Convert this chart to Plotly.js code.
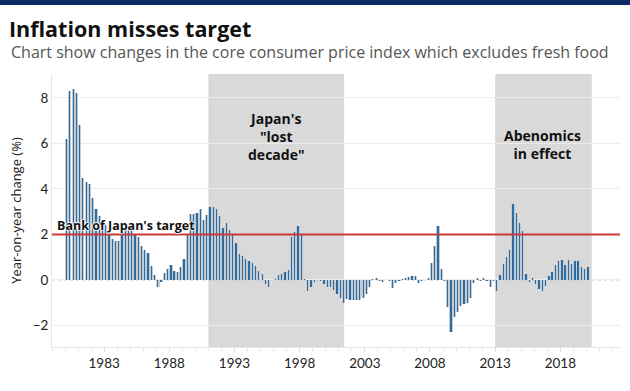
<!DOCTYPE html>
<html>
<head>
<meta charset="utf-8">
<script src="https://cdn.plot.ly/plotly-3.0.1.min.js"></script>
<style>
  html, body { margin: 0; padding: 0; background: #fff; }
  #chart { width: 630px; height: 391px; }
</style>
</head>
<body>
<div id="chart"></div>
<script>
// Quarterly core CPI (ex fresh food), year-on-year % change
const startYear = 1980;
const cpi1980s = [
  6.2, 8.3, 8.4, 8.2,
  6.8, 4.5, 4.3, 4.2,
  3.6, 3.1, 2.8, 2.6,
  2.4, 2.0, 1.8, 1.7,
  1.7, 2.1, 2.2, 2.3,
  2.2, 2.0, 1.9, 1.5,
  1.3, 1.2, 0.6, 0.2,
  -0.3, -0.1, 0.3, 0.5,
  0.65, 0.4, 0.35, 0.55,
  0.9, 2.0, 2.9, 2.9
];
const cpi1990s = [
  2.95, 3.1, 2.65, 2.85,
  3.2, 3.2, 3.1, 2.8,
  2.3, 2.5, 2.2, 2.0,
  1.6, 1.15, 1.05, 0.9,
  0.85, 0.75, 0.6, 0.4,
  0.25, -0.2, -0.3, 0.0,
  0.05, 0.2, 0.25, 0.35,
  0.45, 1.9, 2.1, 2.35,
  2.0, 0.05, -0.5, -0.3,
  -0.1, 0.0, -0.05, -0.2
];
const cpi2000s = [
  -0.3, -0.3, -0.45, -0.6,
  -0.8, -1.0, -0.85, -0.9,
  -0.9, -0.9, -0.9, -0.8,
  -0.6, -0.3, 0.05, 0.1,
  -0.07, -0.1, 0.0, -0.05,
  -0.35, -0.15, -0.07, 0.05,
  0.1, 0.12, 0.15, 0.15,
  -0.15, -0.07, 0.0, 0.1,
  0.75, 1.5, 2.35, 0.5,
  -0.05, -1.2, -2.3, -1.65
];
const cpi2010s = [
  -1.4, -1.15, -1.05, -1.0,
  -0.8, -0.15, 0.1, -0.07,
  0.1, -0.05, -0.3, -0.07,
  -0.5, 0.2, 0.7, 1.0,
  1.3, 3.35, 2.95, 2.5,
  2.15, 0.25, -0.1, 0.07,
  -0.2, -0.4, -0.5, -0.25,
  0.15, 0.35, 0.65, 0.85,
  0.88, 0.66, 0.88, 0.7,
  0.85, 0.85, 0.55, 0.5,
  0.55
];
const targetRate = 2;
const yTickVals = [-2, 0, 2, 4, 6, 8];
const xTickLabels = ['1983', '1988', '1993', '1998', '2003', '2008', '2013', '2018'];
const lostDecade = ['1991-01-01', '2001-06-01'];
const abenomics = ['2013-01-01', '2020-06-01'];

const values = [].concat(cpi1980s, cpi1990s, cpi2000s, cpi2010s);
const midMonths = ['02', '05', '08', '11'];
const dates = values.map((v, i) => {
  const y = startYear + Math.floor(i / 4);
  return y + '-' + midMonths[i % 4] + '-15';
});
const quarterMs = 91.3 * 24 * 3600 * 1000;

const FONT = 'Lato, "Open Sans", sans-serif';
const WIDE = '"Open Sans", Lato, sans-serif';

const traces = [
  {
    type: 'bar', x: dates, y: values,
    width: quarterMs,
    marker: { color: '#c6cbd1', line: { width: 0 } },
    hoverinfo: 'skip', showlegend: false
  },
  {
    type: 'bar', x: dates, y: values,
    width: quarterMs * 0.38,
    marker: { color: '#2b6ca3', line: { width: 0 } },
    showlegend: false
  }
];

const layout = {
  width: 630, height: 391,
  margin: { l: 52, r: 10, t: 74, b: 44 },
  paper_bgcolor: '#fff', plot_bgcolor: '#fff',
  barmode: 'overlay', bargap: 0,
  font: { family: FONT, color: '#222' },
  title: {
    text: '<b>Inflation misses target</b>',
    font: { family: WIDE, size: 21.5, color: '#111' },
    x: 9 / 630, xanchor: 'left', xref: 'container',
    y: 1 - 29 / 391, yanchor: 'middle', yref: 'container'
  },
  xaxis: {
    type: 'date',
    range: ['1979-01-01', '2022-08-01'],
    tickvals: xTickLabels.map(t => t + '-01-01'),
    ticktext: xTickLabels,
    ticks: 'outside', ticklen: 4, tickcolor: '#ddd',
    tickfont: { size: 13.5, color: '#222' },
    showgrid: false, zeroline: false,
    showline: true, linecolor: '#e6e6e6', linewidth: 1,
    minor: { dtick: 'M12', tick0: '1979-01-01', ticks: 'outside', ticklen: 3, tickcolor: '#e6e6e6', showgrid: false }
  },
  yaxis: {
    range: [-2.95, 9.05],
    tickvals: yTickVals,
    tickfont: { size: 13.5, color: '#222' },
    showgrid: true, gridcolor: '#ececec', gridwidth: 1,
    zeroline: false,
    showline: true, linecolor: '#e6e6e6', linewidth: 1,
    title: { text: 'Year-on-year change (%)', font: { family: WIDE, size: 13, color: '#222' }, standoff: 8 }
  },
  shapes: [
    { type: 'rect', xref: 'paper', yref: 'paper', x0: -52 / 568, x1: 578 / 568, y0: 342 / 273, y1: 347 / 273,
      fillcolor: '#0d2b66', line: { width: 0 }, layer: 'above' },
    { type: 'rect', xref: 'x', yref: 'paper', x0: lostDecade[0], x1: lostDecade[1], y0: 0, y1: 1,
      fillcolor: '#d9d9d9', line: { width: 0 }, layer: 'below' },
    { type: 'rect', xref: 'x', yref: 'paper', x0: abenomics[0], x1: abenomics[1], y0: 0, y1: 1,
      fillcolor: '#d9d9d9', line: { width: 0 }, layer: 'below' },
    { type: 'line', xref: 'paper', yref: 'y', x0: 0, x1: 1, y0: 0, y1: 0,
      line: { color: '#bbbbbb', width: 1, dash: 'dot' }, layer: 'below' },
    { type: 'line', xref: 'paper', yref: 'y', x0: 0, x1: 1, y0: targetRate, y1: targetRate,
      line: { color: '#c93a3a', width: 2 }, layer: 'above' }
  ],
  annotations: [
    { xref: 'paper', yref: 'paper', x: -43 / 568, y: (347 - 52) / 273, xanchor: 'left', yanchor: 'middle',
      text: 'Chart show changes in the core consumer price index which excludes fresh food',
      showarrow: false, font: { family: WIDE, size: 16, color: '#555' } },
    { xref: 'paper', yref: 'y', x: 3 / 568, y: 2.37, xanchor: 'left', yanchor: 'middle',
      text: "<b>Bank of Japan's target</b>", showarrow: false,
      font: { family: WIDE, size: 12.5, color: '#111', shadow: '1px 0 1px #fff, -1px 0 1px #fff, 0 1px 1px #fff, 0 -1px 1px #fff' } },
    { xref: 'x', yref: 'y', x: '1996-03-15', y: 6.3, xanchor: 'center', yanchor: 'middle',
      text: "<b>Japan's<br>\"lost<br>decade\"</b>", showarrow: false,
      font: { family: WIDE, size: 14, color: '#111' } },
    { xref: 'x', yref: 'y', x: '2016-09-01', y: 5.95, xanchor: 'center', yanchor: 'middle',
      text: '<b>Abenomics<br>in effect</b>', showarrow: false,
      font: { family: WIDE, size: 14, color: '#111' } }
  ]
};

Plotly.newPlot('chart', traces, layout, { displayModeBar: false, staticPlot: true });
</script>
</body>
</html>
